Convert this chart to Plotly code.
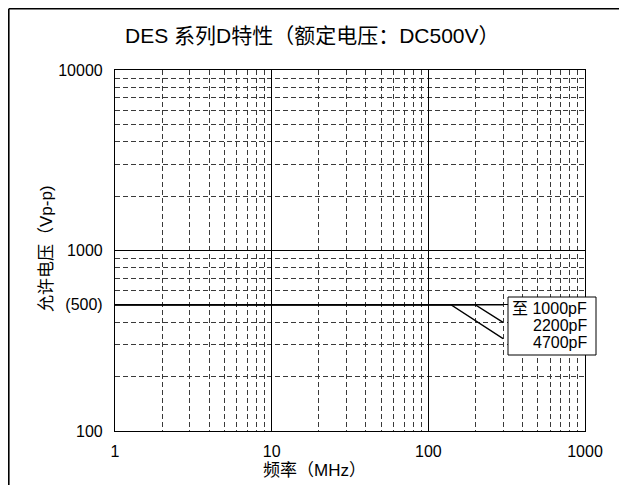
import plotly.graph_objs as go

# frequency (MHz) / allowable voltage (Vp-p)
FREQ_1000PF = [1, 300]
VOLT_1000PF = [500, 500]
FREQ_2200PF = [1, 200, 300]
VOLT_2200PF = [500, 500, 400]
FREQ_4700PF = [1, 140, 300]
VOLT_4700PF = [500, 500, 325]

X_TICKS = [1, 10, 100, 1000]
Y_TICKS = [100, 500, 1000, 10000]
Y_TICKTEXT = ["100", "(500)", "1000", "10000"]
LABELS = ["至 1000pF", "2200pF", "4700pF"]

FONT = "Liberation Sans, Arial, Noto Sans CJK SC, sans-serif"
MINOR_GRID = "#3a3a3a"

# page body has an 8px margin, so the figure starts at (8, 8) on the page;
# keep the figure small enough that the page does not scroll
OFF = 8
PLOT_X0, PLOT_Y0, PLOT_W, PLOT_H = 115, 70, 470, 361  # page pixels
W, H = 627 - 2 * OFF, 493 - 2 * OFF
L, T = PLOT_X0 - OFF, PLOT_Y0 - OFF
R, B = W - L - PLOT_W, H - T - PLOT_H


def px_x(px):
    return (px - PLOT_X0) / PLOT_W


def px_y(py):
    return (PLOT_Y0 + PLOT_H - py) / PLOT_H


series = [
    ("1000pF", FREQ_1000PF, VOLT_1000PF),
    ("2200pF", FREQ_2200PF, VOLT_2200PF),
    ("4700pF", FREQ_4700PF, VOLT_4700PF),
]


def log_axis(rng, tickvals, ticktext, standoff):
    return {
        "type": "log",
        "range": rng,
        "tickvals": tickvals,
        "ticktext": ticktext,
        "showgrid": True,
        "gridcolor": "black",
        "gridwidth": 1,
        "showline": True,
        "linecolor": "black",
        "linewidth": 1.2,
        "mirror": True,
        "zeroline": False,
        "ticklabelstandoff": standoff,
        "minor": {
            "dtick": "D1",
            "showgrid": True,
            "gridcolor": MINOR_GRID,
            "griddash": "5px,3px",
            "gridwidth": 1,
        },
    }


def text_ann(text, x, y, size=16, xanchor="center", **kw):
    return dict(
        text=text, xref="paper", yref="paper", x=x, y=y,
        xanchor=xanchor, yanchor="middle", showarrow=False,
        font={"size": size}, **kw,
    )


def frame_line(x0, y0, x1, y1):
    return {
        "type": "line",
        "xref": "paper", "yref": "paper",
        "x0": px_x(x0), "x1": px_x(x1),
        "y0": px_y(y0), "y1": px_y(y1),
        "line": {"color": "black", "width": 1.6},
        "layer": "below",
    }


annotations = [
    text_ann("DES 系列D特性（额定电压：DC500V）", px_x(312), px_y(35), size=21),
    text_ann("频率（MHz）", px_x(314), px_y(470), size=17),
    text_ann("允许电压（Vp-p)", px_x(46), px_y(249), size=17, textangle=-90),
]
for i, lab in enumerate(LABELS):
    annotations.append(text_ann(lab, px_x(589), px_y(308 + 17 * i), xanchor="right"))

fig = go.Figure(
    data=[
        go.Scatter(
            x=f, y=v, name=n, mode="lines",
            line={"color": "black", "width": 1.3},
            hoverinfo="name+x+y",
        )
        for n, f, v in series
    ],
    layout={
        "width": W,
        "height": H,
        "margin": {"l": L, "r": R, "t": T, "b": B, "pad": 0},
        "showlegend": False,
        "paper_bgcolor": "white",
        "plot_bgcolor": "white",
        "font": {"family": FONT, "color": "black", "size": 16},
        "xaxis": log_axis([0, 3], X_TICKS, [str(t) for t in X_TICKS], 6),
        "yaxis": log_axis([2, 4], Y_TICKS, Y_TICKTEXT, 8),
        "annotations": annotations,
        "shapes": [
            # outer picture frame: only the top and left edges are on the page
            frame_line(OFF + 0.8, OFF + 0.8, 627, OFF + 0.8),
            frame_line(OFF + 0.8, OFF + 0.8, OFF + 0.8, 493),
            # label box
            {
                "type": "rect",
                "xref": "paper", "yref": "paper",
                "x0": px_x(508), "x1": px_x(596),
                "y0": px_y(355), "y1": px_y(297),
                "line": {"color": "black", "width": 1},
                "fillcolor": "white",
                "layer": "above",
            },
        ],
    },
)

fig.write_html("out.html")
